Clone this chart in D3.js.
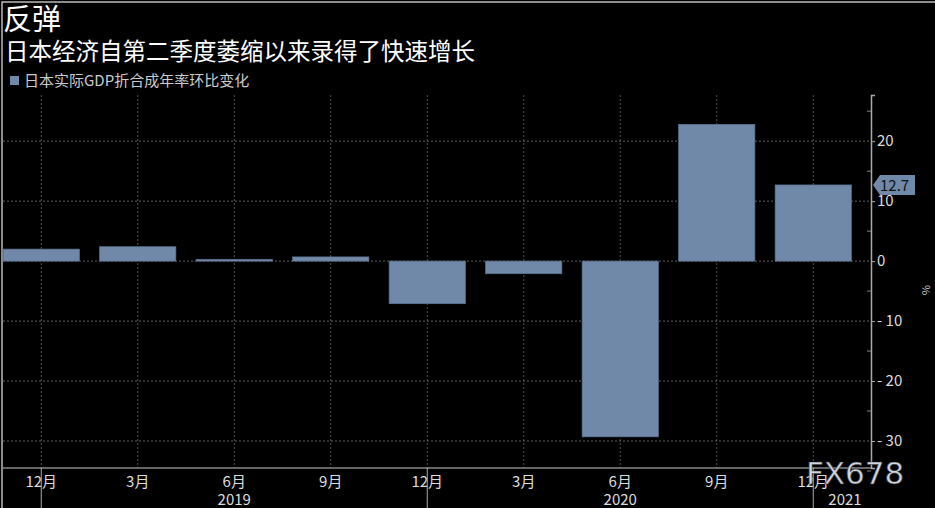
<!DOCTYPE html><html><head><meta charset="utf-8"><script src="https://cdn.jsdelivr.net/npm/d3@7"></script>
<style>body{margin:0;background:#000}text{font-family:"Noto Sans CJK SC",sans-serif}</style></head><body><svg id="c" width="935" height="508"></svg>
<script>
const categories=["12月","3月","6月","9月","12月","3月","6月","9月","12月"];
const values=[2.0,2.4,0.3,0.7,-7.1,-2.1,-29.3,22.8,12.7];
const yTicks=[-30,-20,-10,0,10,20];
const years=[{label:"2019",i:2},{label:"2020",i:6},{label:"2021",i:8.33}];
const svg=d3.select("#c");
svg.append("rect").attr("x",2).attr("y",2).attr("width",940).attr("height",520).attr("fill","none").attr("stroke","#bbb").attr("stroke-width",1.5);
const x=d3.scaleBand().domain(d3.range(categories.length)).range([-7,861.5]).paddingInner(0.21).paddingOuter(0.105);
const y=d3.scaleLinear().domain([-34.5,27.7]).range([468,95]);
const cx=i=>x(i)+x.bandwidth()/2;
const g=svg.append("g");
yTicks.forEach(t=>g.append("line").attr("x1",3).attr("x2",871).attr("y1",y(t)).attr("y2",y(t)).attr("stroke","#777").attr("stroke-dasharray","2,2").attr("stroke-width",0.8));
categories.forEach((c,i)=>g.append("line").attr("x1",cx(i)).attr("x2",cx(i)).attr("y1",95).attr("y2",468).attr("stroke","#666").attr("stroke-dasharray","2,2").attr("stroke-width",0.8));
g.selectAll(".b").data(values).join("rect").attr("x",(d,i)=>x(i)).attr("width",x.bandwidth())
 .attr("y",d=>y(Math.max(0,d))).attr("height",d=>Math.abs(y(d)-y(0))).attr("fill","#7189a8").attr("stroke","#5d7493").attr("stroke-width",0.7);
svg.append("line").attr("x1",3).attr("x2",871).attr("y1",468).attr("y2",468).attr("stroke","#ccc");
const ya=svg.append("g").attr("transform","translate(871,0)").call(d3.axisRight(y).tickValues(yTicks).tickSize(4));
ya.selectAll("text").attr("fill","#ddd").style("font-size","15px").attr("x",6).text(d=>d<0?"- "+Math.abs(d):d);
ya.select(".domain").attr("stroke","#aaa").attr("stroke-width",1.5);
ya.selectAll(".tick line").attr("stroke","#aaa");
d3.range(-35,28,5).filter(v=>v%10!==0).forEach(v=>svg.append("line").attr("x1",867).attr("x2",871).attr("y1",y(v)).attr("y2",y(v)).attr("stroke","#888"));
categories.forEach((c,i)=>svg.append("text").attr("x",cx(i)).attr("y",487).attr("text-anchor","middle").attr("fill","#ddd").style("font-size","15px").text(c));
[0,4,8].forEach(i=>svg.append("line").attr("x1",cx(i)).attr("x2",cx(i)).attr("y1",468).attr("y2",508).attr("stroke","#aaa"));
years.forEach(o=>svg.append("text").attr("x",o.i===8.33?845:cx(o.i)).attr("y",505).attr("text-anchor","middle").attr("fill","#ddd").style("font-size","15px").text(o.label));
const ly=y(values[8]);
svg.append("path").attr("d",`M873,${ly} L880,${ly-10} L915,${ly-10} L915,${ly+10} L880,${ly+10} Z`).attr("fill","#7189a8");
svg.append("text").attr("x",880).attr("y",ly+6).attr("fill","#111").style("font-size","15px").text(values[8]);
svg.append("text").attr("x",922).attr("y",285).attr("fill","#ccc").style("font-size","11px").attr("transform","rotate(90,922,285)").text("%");
svg.append("text").attr("x",3).attr("y",30).attr("fill","#fff").style("font-size","29px").text("反弹");
svg.append("text").attr("x",5).attr("y",60).attr("fill","#fff").style("font-size","23.5px").text("日本经济自第二季度萎缩以来录得了快速增长");
svg.append("rect").attr("x",10).attr("y",76).attr("width",9).attr("height",9).attr("fill","#7189a8");
svg.append("text").attr("x",24).attr("y",86).attr("fill","#ccc").style("font-size","15px").text("日本实际GDP折合成年率环比变化");
svg.append("text").attr("x",806).attr("y",484).attr("fill","#cfd6e0").attr("stroke","#333").attr("stroke-width",0.6).style("font-size","31px").style("font-family","DejaVu Sans").text("FX678");
</script></body></html>
